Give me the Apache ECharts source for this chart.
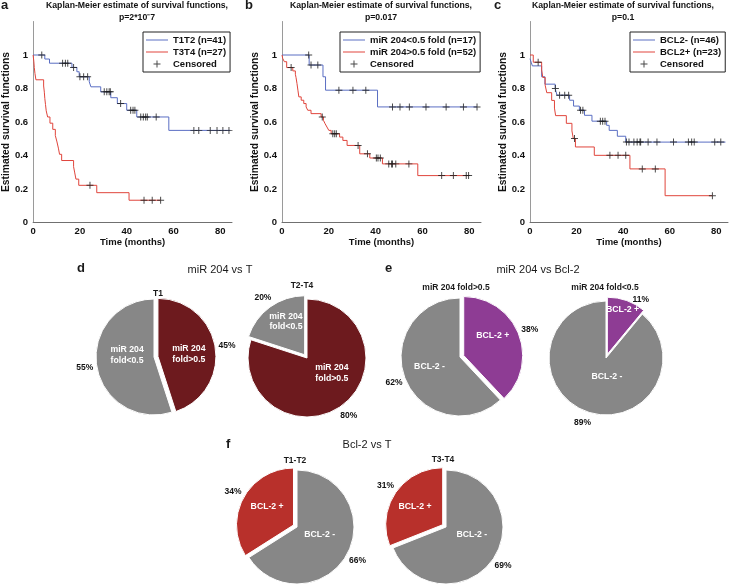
<!DOCTYPE html>
<html><head><meta charset="utf-8">
<script src="https://cdn.jsdelivr.net/npm/echarts@6/dist/echarts.min.js"></script>
<style>html,body{margin:0;padding:0;background:#fff}#c{width:731px;height:585px}</style>
</head><body><div id="c"></div>
<script>
// ---------- Kaplan-Meier data (panel a) ----------
const aNames = ['T1T2 (n=41)', 'T3T4 (n=27)'];
const aBlueT = [0, 5, 7, 16.6, 18.7, 19.7, 24, 24.7, 28.9, 33.2, 36, 40, 44.3, 58, 84.3];
const aBlueS = [1, 0.976, 0.951, 0.926, 0.90, 0.87, 0.84, 0.81, 0.78, 0.745, 0.71, 0.67, 0.63, 0.55, 0.55];
const aBlueC = [3.7, 12.6, 13.8, 14.8, 17.3, 20, 21.6, 23.3, 30.4, 31.5, 32.5, 33.0, 37.4, 41.7, 42.7, 43.5, 46, 47.1, 48.1, 48.8, 52.6, 68.7, 70.8, 75.7, 78.6, 81.1, 83.7];
const aRedT = [0, 0.3, 0.5, 0.8, 1.2, 4.5, 4.8, 5.0, 5.3, 5.6, 6.2, 7.2, 8.4, 9.5, 10.2, 10.8, 11.3, 12.2, 17.3, 17.8, 18.3, 19.5, 27.2, 41, 54.5];
const aRedS = [1, 0.963, 0.926, 0.889, 0.852, 0.815, 0.778, 0.741, 0.704, 0.667, 0.630, 0.593, 0.556, 0.519, 0.481, 0.444, 0.407, 0.370, 0.333, 0.296, 0.259, 0.222, 0.178, 0.133, 0.133];
const aRedC = [24.3, 47.4, 50.9, 54.5];
// ---------- panel b ----------
const bNames = ['miR 204<0.5 fold (n=17)', 'miR 204>0.5 fold (n=52)'];
const bBlueT = [0, 11.6, 17.5, 18.6, 40.8, 83.3];
const bBlueS = [1, 0.94, 0.87, 0.79, 0.69, 0.69];
const bBlueC = [11.4, 12.4, 15.3, 24.3, 30.3, 35.8, 47.2, 50.4, 54.4, 61.5, 70.1, 77.5, 83.3];
const bRedT = [0, 0.3, 1.0, 2.0, 4.6, 5.7, 6.0, 6.4, 6.8, 7.2, 8.2, 9.3, 10.3, 11.0, 12.4, 16.7, 17.7, 18.4, 19.2, 20.0, 21.0, 24.6, 26.0, 27.8, 33.2, 37.5, 42.9, 58.0, 79.7];
const bRedS = [1, 0.98, 0.96, 0.925, 0.905, 0.885, 0.865, 0.83, 0.79, 0.75, 0.73, 0.71, 0.69, 0.67, 0.65, 0.63, 0.61, 0.59, 0.57, 0.55, 0.53, 0.51, 0.49, 0.46, 0.41, 0.385, 0.35, 0.28, 0.28];
const bRedC = [3.9, 17.2, 21.7, 22.5, 23.2, 32.5, 36.5, 40.3, 41.0, 42.0, 45.6, 46.8, 47.2, 48.6, 54.2, 68.2, 73.2, 78.7, 79.7];
// ---------- panel c ----------
const cNames = ['BCL2- (n=46)', 'BCL2+ (n=23)'];
const cBlueT = [0, 0.5, 1.0, 5.0, 6.4, 10.8, 11.6, 17.0, 18.7, 21.2, 23.4, 26.6, 32.9, 34.0, 37.5, 41.1, 83.9];
const cBlueS = [0.978, 0.957, 0.935, 0.87, 0.826, 0.80, 0.76, 0.73, 0.695, 0.67, 0.64, 0.605, 0.58, 0.55, 0.515, 0.48, 0.48];
const cBlueC = [10.9, 12.7, 14.9, 16.6, 21.7, 22.7, 30.2, 31.2, 32.2, 41.4, 42.5, 44.6, 46.0, 47.2, 47.5, 50.7, 54.5, 61.6, 68.0, 69.4, 70.5, 79.3, 81.9];
const cRedT = [0, 1.4, 5.0, 5.5, 6.5, 7.2, 9.3, 10.5, 11.0, 15.6, 18.0, 18.6, 19.5, 27.6, 42.9, 58.0, 78.3];
const cRedS = [1, 0.957, 0.911, 0.866, 0.820, 0.775, 0.729, 0.683, 0.638, 0.592, 0.547, 0.501, 0.451, 0.401, 0.32, 0.16, 0.16];
const cRedC = [3.5, 19.1, 34.3, 37.8, 41.1, 48.2, 53.8, 78.3];
const kmTitle = 'Kaplan-Meier estimate of survival functions,';
const pValues = ['p=2*10\u207B7', 'p=0.017', 'p=0.1'];
const yTicks = [0, 0.2, 0.4, 0.6, 0.8, 1];
const xTicks = [0, 20, 40, 60, 80];

// ---------- pie data ----------
const d1Names = ['miR 204\nfold>0.5', 'miR 204\nfold<0.5']; const d1Vals = [45, 55];
const d2Names = ['miR 204\nfold>0.5', 'miR 204\nfold<0.5']; const d2Vals = [80, 20];
const e1Names = ['BCL-2 +', 'BCL-2 -']; const e1Vals = [38, 62];
const e2Names = ['BCL-2 +', 'BCL-2 -']; const e2Vals = [11, 89];
const f1Names = ['BCL-2 -', 'BCL-2 +']; const f1Vals = [66, 34];
const f2Names = ['BCL-2 -', 'BCL-2 +']; const f2Vals = [69, 31];

// ---------- styles ----------
const FONT = '"Liberation Sans", Arial, Helvetica, sans-serif';
const BLUE = '#5a6ec3', RED = '#e0453c', INK = '#111';
const GRAY = '#878787', DARKRED = '#6d1a1e', PURPLE = '#8e3c94', BRED = '#b8302b';
const PLUS = 'path://M4.3,0 H5.7 V4.3 H10 V5.7 H5.7 V10 H4.3 V5.7 H0 V4.3 H4.3 Z';
const LINEICON = 'path://M0,0 H22 V1 H0 Z';
const CLEAR = 'rgba(0,0,0,0)';

function survAt(t, T, S) { let s = S[0]; for (let i = 0; i < T.length; i++) { if (T[i] <= t) s = S[i]; else break; } return s; }

const kmPanels = [
  {names: aNames, bt: aBlueT, bs: aBlueS, bc: aBlueC, rt: aRedT, rs: aRedS, rc: aRedC, left: 32, width: 200, legLeft: 143, tx: 137, ng: 11},
  {names: bNames, bt: bBlueT, bs: bBlueS, bc: bBlueC, rt: bRedT, rs: bRedS, rc: bRedC, left: 282, width: 199, legLeft: 340, tx: 381, ng: 16},
  {names: cNames, bt: cBlueT, bs: cBlueS, bc: cBlueC, rt: cRedT, rs: cRedS, rc: cRedC, left: 530, width: 200, legLeft: 630, tx: 623, ng: 18}
];

const grid = [], xAxis = [], yAxis = [], series = [], legend = [], title = [];
kmPanels.forEach((p, k) => {
  grid.push({left: p.left, width: p.width, top: 21.5, height: 201, containLabel: false});
  xAxis.push({type: 'value', gridIndex: k, min: 0, max: 85, interval: 20,
    axisLine: {lineStyle: {color: '#707070', width: 1}}, axisTick: {show: false}, splitLine: {show: false},
    axisLabel: {margin: 4, color: INK, fontSize: 9.5, fontWeight: 'bold', fontFamily: FONT,
      formatter: v => xTicks.indexOf(v) >= 0 ? String(v) : ''},
    name: 'Time (months)', nameLocation: 'middle', nameGap: 13,
    nameTextStyle: {color: INK, fontSize: 9.5, fontWeight: 'bold', fontFamily: FONT}});
  yAxis.push({type: 'value', gridIndex: k, min: 0, max: 1.2, interval: 0.2,
    axisLine: {show: true, lineStyle: {color: '#9a9a9a', width: 1}}, axisTick: {show: false}, splitLine: {show: false},
    axisLabel: {margin: 5, color: INK, fontSize: 9.5, fontWeight: 'bold', fontFamily: FONT,
      formatter: v => { const m = yTicks.find(t => Math.abs(t - v) < 1e-6); return m === undefined ? '' : String(m); }},
    name: 'Estimated survival functions', nameLocation: 'middle', nameGap: p.ng, nameRotate: 90,
    nameTextStyle: {color: INK, fontSize: 10.3, fontWeight: 'bold', fontFamily: FONT}});
  const mkLine = (name, T, S, col) => ({type: 'line', name, xAxisIndex: k, yAxisIndex: k, step: 'end',
    data: T.map((t, i) => [t, S[i]]), symbol: 'none', lineStyle: {color: col, width: 1}, itemStyle: {color: col},
    silent: true, animation: false, z: 2});
  series.push(mkLine(p.names[0], p.bt, p.bs, BLUE));
  series.push(mkLine(p.names[1], p.rt, p.rs, RED));
  const cens = p.bc.map(t => [t, survAt(t, p.bt, p.bs)]).concat(p.rc.map(t => [t, survAt(t, p.rt, p.rs)]));
  series.push({type: 'scatter', name: 'Censored', xAxisIndex: k, yAxisIndex: k, data: cens, symbol: PLUS, symbolSize: 7,
    itemStyle: {color: '#1a1a1a'}, silent: true, animation: false, z: 3});
  legend.push({left: p.legLeft, top: 32, orient: 'vertical',
    data: [{name: p.names[0], icon: LINEICON}, {name: p.names[1], icon: LINEICON}, {name: 'Censored', icon: PLUS}],
    borderColor: '#222', borderWidth: 1, padding: [3, 4, 3, 3], itemGap: 2, itemWidth: 22, itemHeight: 7,
    selectedMode: false, textStyle: {fontSize: 9.5, fontWeight: 'bold', color: INK, fontFamily: FONT}});
  title.push({text: kmTitle + '\n' + pValues[k], left: p.tx, top: -1, textAlign: 'center', padding: 0,
    textStyle: {fontSize: 8.7, fontWeight: 'bold', color: INK, fontFamily: FONT, lineHeight: 12.5}});
});

// panel letters and pie headings
const texts = [
  ['a', 1, -1, 13, 'bold', 'left'], ['b', 245, -1, 13, 'bold', 'left'], ['c', 494, -1, 13, 'bold', 'left'],
  ['d', 77, 262, 13, 'bold', 'left'], ['e', 385, 262, 13, 'bold', 'left'], ['f', 226, 438, 13, 'bold', 'left'],
  ['miR 204 vs T', 220, 264, 11, 'normal', 'center'], ['miR 204 vs Bcl-2', 538, 264, 11, 'normal', 'center'],
  ['Bcl-2 vs T', 367, 439, 11, 'normal', 'center'],
  ['T1', 158, 289, 8.5, 'bold', 'center'], ['T2-T4', 302, 281, 8.5, 'bold', 'center'],
  ['miR 204 fold>0.5', 456, 283, 8.5, 'bold', 'center'], ['miR 204 fold<0.5', 605, 283, 8.5, 'bold', 'center'],
  ['T1-T2', 295, 456, 8.5, 'bold', 'center'], ['T3-T4', 443, 455, 8.5, 'bold', 'center']
];
texts.forEach(t => title.push({text: t[0], left: t[1], top: t[2], textAlign: t[5], padding: 0,
  textStyle: {fontSize: t[3], fontWeight: t[4], color: '#1a1a1a', fontFamily: FONT}}));

// pies (layout: centre, radius, exploded slice, inner-label polar placement [angle, distance], outer-label nudge)
const EXPLODE = 4;
const pies = [
  {names: d1Names, vals: d1Vals, colors: [DARKRED, GRAY], sel: [true, false], center: [154, 357], r: 58, inPolar: [[85, 35], [274, 27]]},
  {names: d2Names, vals: d2Vals, colors: [DARKRED, GRAY], sel: [false, true], center: [307, 358], r: 59, inPolar: [[121, 29], [330, 42]]},
  {names: e1Names, vals: e1Vals, colors: [PURPLE, GRAY], sel: [true, false], center: [460, 357], r: 59, inPolar: [[57, 39], [252, 32]]},
  {names: e2Names, vals: e2Vals, colors: [PURPLE, GRAY], sel: [true, false], center: [606, 358], r: 57, inPolar: [[19, 51], [177, 19]], outAdj: [[10, 10], [0, 0]]},
  {names: f1Names, vals: f1Vals, colors: [GRAY, BRED], sel: [false, true], center: [297, 527], r: 57, inPolar: [[109, 24], [304, 36]]},
  {names: f2Names, vals: f2Vals, colors: [GRAY, BRED], sel: [false, true], center: [446, 527], r: 57, inPolar: [[107, 27], [303, 37]]}
];
function midAngles(vals) { const tot = vals.reduce((a, b) => a + b, 0); let acc = 0; return vals.map(v => { const m = (acc + v / 2) / tot * 360; acc += v; return m; }); }
function polar(c, ang, d) { const a = ang * Math.PI / 180; return [c[0] + d * Math.sin(a), c[1] - d * Math.cos(a)]; }
pies.forEach(p => {
  const mids = midAngles(p.vals);
  const base = {type: 'pie', radius: p.r, startAngle: 90, clockwise: true, avoidLabelOverlap: false,
    silent: true, animation: false, emphasis: {disabled: true}, labelLine: {show: false}};
  const selIdx = p.sel.indexOf(true);
  const shifted = polar(p.center, mids[selIdx], EXPLODE);
  // body (non-exploded slices) and exploded slice, each drawn from the same values
  [[p.center, i => !p.sel[i]], [shifted, i => p.sel[i]]].forEach(([ctr, vis]) => {
    series.push(Object.assign({}, base, {center: ctr, label: {show: false},
      data: p.vals.map((v, i) => ({value: v, name: p.names[i],
        itemStyle: vis(i) ? {color: p.colors[i], borderColor: '#fff', borderWidth: 1} : {color: CLEAR, borderWidth: 0}}))}));
  });
  // inner name labels
  series.push(Object.assign({}, base, {center: p.center, z: 5,
    data: p.vals.map((v, i) => ({value: v, name: p.names[i]})), itemStyle: {color: CLEAR, borderWidth: 0},
    label: {show: true, position: 'inside', formatter: '{b}', color: '#fff', fontSize: 8.7, fontWeight: 'bold',
      fontFamily: FONT, lineHeight: 10.5, align: 'center'},
    labelLayout: prm => { const q = p.inPolar[prm.dataIndex]; const xy = polar(p.center, q[0], q[1]);
      return {x: xy[0], y: xy[1], align: 'center', verticalAlign: 'middle'}; }
  }));
  // outer percentage labels
  series.push(Object.assign({}, base, {center: p.center, z: 5,
    data: p.vals.map((v, i) => ({value: v, name: p.names[i]})), itemStyle: {color: CLEAR, borderWidth: 0},
    label: {show: true, position: 'inside', formatter: '{c}%', color: '#111', fontSize: 8.5, fontWeight: 'bold',
      fontFamily: FONT},
    labelLayout: prm => { const i = prm.dataIndex; const d = p.r + 12 + (p.sel[i] ? EXPLODE : 0);
      const xy = polar(p.center, mids[i], d); const adj = p.outAdj ? p.outAdj[i] : [0, 0];
      return {x: xy[0] + adj[0], y: xy[1] + adj[1], align: 'center', verticalAlign: 'middle'}; }
  }));
});

const chart = echarts.init(document.getElementById('c'), null, {renderer: 'canvas'});
chart.setOption({animation: false, backgroundColor: '#fff', title, legend, grid, xAxis, yAxis, series, tooltip: {show: false}});
</script></body></html>
